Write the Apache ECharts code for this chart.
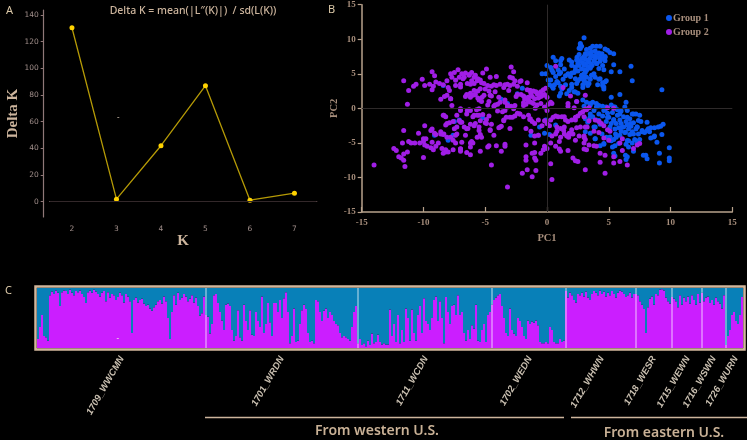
<!DOCTYPE html>
<html><head><meta charset="utf-8">
<style>html,body{margin:0;padding:0;background:#000}#c{width:747px;height:440px}</style>
<script src="https://cdn.jsdelivr.net/npm/echarts@6/dist/echarts.min.js"></script>
</head><body><div id="c"></div>
<script>
const kLabels = ['2','3','4','5','6','7'];
const deltaK = [130.5,1.8,41.9,87,1,6.3];
const deltaTicks = [0,20,40,60,80,100,120,140];

const group1 = [
[0,6.2],[-0.4,5],[-0.1,5],[0.5,7.4],[0.7,6.9],[1.1,6.9],[1.1,6.3],[1.2,7.2],[1.8,7],[2,6.7],[2.3,6],[2.6,7.8],[2.6,8.7],[2.7,9.2],[3,10.2],[2.8,9],[3.2,8.5],[3.5,8.7],[3.7,9],[4,9],[4.3,9],[4.7,8.6],[4.9,8.4],[5.1,8.1],[5.4,7.9],[5.4,6.3],[5.2,5.3],[5.9,5.3],[6.8,6.1],[6.9,4],[9.3,2.7],[5.2,1.6],[5.9,2],[6.4,0.9],
[2.4,7],[2.5,6.5],[2.6,6.2],[2.7,6.8],[2.8,7.2],[2.9,6.6],[3,7.5],[3,6.2],[3.1,7.1],[3.2,6.5],[3.2,7.8],[3.3,6],[3.3,7],[3.4,8],[3.4,6.7],[3.5,7.3],[3.5,5.8],[3.6,8.2],[3.6,6.4],[3.7,7.6],[3.8,6.9],[3.9,8.3],[3.9,7.2],[4,7.8],[4,6.5],[4.2,7.4],[4.2,8],[4.3,6.8],[4.4,7.7],[4.5,7.2],[4.5,6.2],[4.7,7.5],[4.7,6.9],[4.6,5.6],[4.8,4],[4.5,3.7],[4.5,3.3],[4.6,2.8],[4.2,4.2],[3.9,4.5],[4.1,3.4],[3.6,4.8],[3.2,5.5],[3,5],[2.9,4.6],[3,4],[3.2,3.7],[3.3,3.3],[2.9,3.4],[2.9,3],[3.1,5.2],[2.8,5.7],[2.5,5.4],[2.2,5.2],[2,5.1],[1.9,4.6],[2.3,4.3],[2.5,4],[2.4,3.6],[2,3.5],[2.2,2.4],[2.5,2.2],[2.4,1],[1.5,3.4],[1.2,2.8],[1.1,2.2],[1,1.8],[1.3,4.2],[1.5,4.7],[1.7,5],[1.4,5.7],[1.1,5.2],[0.7,4.6],[0.8,3.9],[0.6,3.4],[0.3,4.1],[0.1,4.1],[0.2,3.4],[0.4,3.2],[0.5,2.9],[0.9,3.7],[1.1,3.2],[1.8,2.6],[2,3],[1.6,2.1],[0.5,5.2],[0.4,5.5],[0.3,5.9],[0.9,5.6],[1,5],[2.7,4.3],[3.5,4.2],[3.4,3.6],
[2.7,9.4],[2.7,8.65],[2.43,7.4],[2.3,5.5],[2,6.2],[3.1,7.9],[3.5,7.9],[3.9,7.4],[3.5,6],[3.1,5.5],[2.8,4.8],[3.2,4.5],[3.65,6.2],[4.05,6.5],[4.3,7.2],[4.45,7.9],[4.7,7.4],[4.2,5.75],[3.8,5],[4.3,4.3],[4.7,3.8],[4.6,3.1],[2.3,2.35],[3,4.5],
[2.9,1.2],[3,0.3],[3.2,0.9],[3.5,0.5],[3.7,0.9],[4,0.7],[4.2,0.4],[4.5,0.3],[4.8,0.2],[5.2,0.5],[5.5,0.2],[5.7,-0.2],[6,-0.4],[6.3,0.2],[6.5,-0.3],[6.9,-0.8],[7.2,-0.8],[7.5,-1],[7.6,-1.9],[8.1,-2],[8.4,-2.8],[8.7,-2.8],[9,-2.7],[9.2,-2.6],[9.4,-2.3],[9.3,-3.8],[8.7,-4],[8.9,-4.9],[9.9,-5.7],[9.1,-6.5],[9.9,-7.2],[9.9,-7.6],[9.1,-7.9],[8.1,-7.3],[7.8,-6.8],[7,-6.2],[6.5,-7],[6.4,-7.4],[5.4,-6.5],[5.5,-6.9],
[3.1,-1.5],[3.3,-2],[3.5,-0.8],[3.7,-1.2],[3.8,-0.3],[4,-1.7],[4.2,-0.8],[4.3,-2.3],[4.5,-1.1],[4.7,-0.2],[4.8,-1.9],[4.9,-0.7],[5,-1.3],[5.2,-2.2],[5.3,-0.6],[5.4,-1.6],[5.5,-3],[5.6,-2.2],[5.7,-1],[5.8,-2.8],[5.9,-1.7],[6,-3.3],[6,-2.2],[6.2,-1.2],[6.2,-2.7],[6.3,-3.5],[6.4,-1.9],[6.5,-2.4],[6.6,-3],[6.7,-1.5],[6.7,-3.8],[6.8,-2.6],[6.9,-3.4],[7,-2.1],[7.1,-4.5],[7.2,-3],[7.3,-2.7],[7.4,-3.7],[7.5,-4.5],[7.7,-3.2],[7.9,-3.5],[8.1,-3.2],[8.3,-3.4],[8.4,-4.3],[6.6,-4.7],[6.4,-5.2],[5.6,-4.2],[5.4,-4.5],[5.2,-4.7],[4.8,-4.2],[4.6,-5.2],[4.3,-5.4],[3.9,-4.4],[3.5,-3.6],[3.9,-2.7],[3.1,-3.4],[5.8,-5.1],[5.5,-5.4],[6.9,-5],[7.3,-4.8],
[3.5,0.7],[4,0.2],[4.6,-0.3],[5.4,0.2],[5.9,-0.8],[6.5,-1.3],[7,-0.8],[7.4,-1.75],[7.7,-3.4],[8.2,-2.95],[8.65,-4.15],[7,-3.7],[6.5,-4.65],[5.9,-3.9],[5.1,-4.15],[4.6,-5.1],[5.3,-5.6],[4.45,-3.7],[3.9,-4.4],[3.5,-1.3],[3.8,-2.7],[5.4,-1.75],[6.1,-2.7],[6.35,-3.45],[6.75,-2.2],[7.3,-2.7],[4.9,-1.3],[4.2,-1.75],[5.1,-2.7],[5.55,-3.7],[6.6,-5.6],[6.35,-6.8],[8,-6.8],
[-8.4,3.3],[-9.1,-3.9],[-7.5,-1.9],[-7.6,-3.9],[-8,-4.6],[-7.1,-1.7],[-3.7,1.3],[-2,2.9],[-2.4,2.1],[-1.8,1.6],[-3.2,0.7],[-5.2,-1.4],[-1.3,-3.9],[-0.7,-3.9],[-0.2,-3.6],[0.2,-3.8],[-0.6,-2.7],[-0.1,-1.7],[0.7,-2.4]
];

const group2 = [
[-14,-8.2],[-12.4,-5.8],[-12.2,-6.1],[-12,-7],[-11.8,-7.2],[-11.6,-7.5],[-11.5,-8.4],[-11.6,-6.6],[-11.3,-6.3],[-11.7,-5],[-11.2,-4.8],[-11,-5],[-10.7,-5],[-10.3,-5],[-10,-4.8],[-9.9,-5.3],[-9.7,-5.5],[-9.4,-5.7],[-9.2,-6],[-9,-5.5],[-8.8,-5],[-10,-7.1],[-10.4,-3.6],[-10,-4.4],[-9.9,-2.5],[-9.3,-3],[-9.1,-3.6],[-9,-3.8],[-11.6,-3.2],[-8.6,-3.4],[-8.4,-3.8],[-8.1,-4.2],[-8.5,-5.8],[-8.2,-6],[-8.4,-6.5],[-8,-6.3],[-7.6,-6],[-7.4,-5],[-7,-5.9],[-7,-6.2],[-6.5,-6.4],[-6.2,-6.7],[-6.9,-4.9],[-6.1,-4.8],[-6,-5],[-5.4,-6.2],[-4.8,-5.6],[-4.7,-5.4],[-4.1,-5.4],[-3.7,-6.2],[-3.4,-5.5],[-3.4,-5.2],[-4.5,-8.2],[-3.2,-11.4],[-2,-9.4],[-1.6,-8.9],[-1.2,-9.9],[-0.9,-9],[-1.7,-7],[-1.7,-7.5],[-1.2,-6.5],[-1,-6.4],[-1,-7.2],[-0.9,-7.5],[-1.7,-5.3],[-1,-5],[-0.5,-6.5],[-0.3,-6],[0,-5.8],[-0.2,-5.5],[0.3,-5],[0.7,-5.5],[1,-4.8],[1,-5.9],[1.1,-6.2],[1.7,-6.1],[2.1,-7.2],[2.3,-7.6],[2.5,-7.7],[0.3,-8],[0.4,-10.3],[3.1,-8.9],[4.7,-9.4],[4.3,-7.8],[5.4,-7.9],[5.9,-7.7],[6.5,-8.2],[4.3,-6.5],[4.7,-6.8],[5.4,-7],[3,-5.9],[3.2,-6],[3,-5],[3.4,-5.3],[3.8,-5.4],[4,-5.5],[4.6,-4.3],[5,-4.6],[5.9,-5],[6.1,-4.4],[6.1,-6.1],[7,-5.8],[7.3,-5.3],[7.5,-5.1],[3,-4],[3.1,-4.5],
[-11.6,4],[-11.2,2.6],[-11.3,0.6],[-10.8,3.2],[-10.6,3.5],[-10.1,4.2],[-9.9,3.3],[-9.5,3.5],[-9.3,5.3],[-9.1,4.7],[-9.2,3.2],[-9.3,2.7],[-9,3.8],[-8.7,3.6],[-8.4,3.4],[-8.1,4],[-8,3],[-7.9,2.6],[-7.7,4.5],[-7.8,5],[-7.5,5.2],[-7.2,5.6],[-7.4,3.3],[-7,3.5],[-6.9,5],[-6.8,4.3],[-6.6,5.1],[-6.3,4.9],[-6.1,5.2],[-6.1,4],[-6.2,3.5],[-5.9,3.6],[-5.8,4.8],[-5.6,4.3],[-5.4,4.1],[-5.3,3.7],[-5.2,5.1],
[-8.6,1.3],[-8.3,1.7],[-7.8,1.4],[-7.7,0.4],[-7,-0.3],[-6.6,1.7],[-6.5,2],[-6.2,2.2],[-6,1.9],[-5.8,2],[-5.6,1.5],[-5.6,2.5],[-5,2.8],[-4.7,2.5],[-4.8,3.3],[-4.5,3.2],[-4.3,3.4],[-4.1,3.3],[-3.8,3.5],[-3.4,3.4],[-3,3.3],[-3,4.5],[-3.2,3.5],[-2.8,4.4],[-2.6,4],[-2.7,3.5],[-2.4,3.2],[-2.2,3.9],[-2.1,4],[-1.6,3.7],[-3.1,2.6],[-2.9,6],[-2.7,5.3],[-4.9,5.7],[-4.6,4.5],[-4.1,4.6],[-3.5,3],[-4.5,1.8],[-5.3,1],[-5.1,1.9],[-4.8,0.5],[-4.7,1],[-4.3,0.3],[-4.2,0.5],[-4,0.6],[-3.9,1.6],[-3.4,0.9],[-3.4,1.2],[-3.2,0.5],[-2.9,0.3],[-2.6,0.4],[-2.5,1.7],[-2.4,2],[-2.1,2],[-1.9,1.8],[-1.6,1.5],[-1.6,2.7],[-1.4,2.6],[-1.3,2.2],[-1.1,2.5],[-0.9,2.4],[-0.7,2.2],[-0.5,2.4],[-0.3,2.7],[-0.1,2.9],[-0.2,2],[0,1.6],[-0.5,1.7],[-0.7,1.5],[-1,1.4],[-1.2,1.7],[-1.5,1.6],[-1.8,1.3],[-1.9,0.8],[-1.7,0.6],[-1.5,1],[-1.3,0.9],[-1.1,0.7],[-0.8,0.5],[-0.5,0.7],[-0.2,0.2],[0.1,0.6],[0.3,0.9],
[-6.45,3.6],[-7,3.1],[-5.9,2.6],[-5.65,4],[-6.2,1.6],[-5.25,1.6],[-5.4,2.85],[-5.1,3.6],[-7.8,1.4],[-8.1,1.9],[-7.4,4.05],[-7.1,4.5],[-6.7,4.5],[-6.3,4.8],[-5.9,4.5],[-5.5,1.2],
[-4.6,1.9],[-4.2,2.4],[-3.8,0.9],[-3.2,0.2],[-2.7,-0.05],[-2.2,-0.8],[-1.35,2.6],[-0.8,2.1],[-0.3,1.9],[-1.5,1.2],[-1.9,0.4],[-0.95,0],[-1.35,-1.5],[-0.7,-1.7],[0,-0.3],[0.4,0.7],
[-6.3,-0.2],[-6.5,-0.8],[-6,-1.2],[-5.7,-0.2],[-5.5,-1],[-5.4,-1.8],[-5.2,-0.9],[-4.9,-1.6],[-4.7,-1.1],[-4.5,-2.3],[-4,-0.4],[-3.6,-0.5],[-3.4,-0.3],[-3.3,-1.3],[-3.5,-1.8],[-3.7,-2.6],[-3.9,-2.8],[-3,-2.9],[-2.8,-1.3],[-2.6,-1.1],[-2.4,-0.7],[-2.2,-0.8],[-1.9,-1.2],[-1.7,-2.9],[-1.5,-1],[-1.4,-1.6],[-1.2,-1.9],[-1,-2.2],[-1.3,-3.3],[-1,-4],[-0.7,-3.9],[-0.4,-2.5],[-0.2,-1.8],[0,-2.2],[0.2,-2.5],[0.5,-1.3],[0.7,-1.1],[0.9,-1.2],[1.2,-1.2],[1.4,-1.2],[1.5,-1.7],[1.7,-1.9],[2,-1.7],[2.3,-1.3],[2.5,-1.1],[2.7,-0.7],[2.9,-0.5],[3.1,-0.1],[0.4,-4],[0.7,-3.7],[0.8,-3.3],[1.1,-2.9],[1.4,-2.7],[1.4,-3.7],[1.6,-4],[1.8,-3.6],[2,-3.1],[2.1,-3.7],[2.4,-2.8],[2.3,-4.6],[2.6,-4],[3.1,-2.7],[3.4,-1.8],[3.9,-1.7],[4.2,-1.9],[4.4,-2.2],[4.6,-2.5],[5.1,-3.3],[4.9,-3.1],[3.8,-3.3],[4.2,-3.5],[3,-1.2],[3.1,1.9],[0.7,6.1],[1.3,3],[1.9,1.8],[1.7,0.7],[1.7,0.3],[2.4,1],[2.2,0.1],[3.2,-0.2],[3.4,0.1],[5.4,0],[4.9,0.1],
[-3.8,-2.7],[-3.5,-1.7],[-3,-1.3],[-4.6,-3.2],[-4.9,-2.2],[0.3,-1.7],[0.8,-2.7],[1.35,-3.2],[1.9,-3.7],[2.3,-1.7],[2.7,-2.7],[3,-4.2],[3.25,-2.7],[1.75,-4.2],[1.1,-4.2],
[-8.4,-1],[-8.2,-1.2],[-8.2,-2.4],[-7.9,-2.1],[-7.6,-1.9],[-7.3,-1],[-7.1,-1.8],[-6.9,-2],[-6.7,-2.7],[-6.4,-2.9],[-6.2,-2.3],[-5.9,-2.5],[-5.5,-2.7],[-5.4,-3.8],[-5.3,-4.2],[-5,-2.1],[-4.6,-3.1],[-4.3,-3.9],[-7.6,-4.6],[-7.3,-3.7],[-6.6,-3.9],[-6.2,-5],
[-8.35,-1],[-7.3,-2.7],[-7,-2],[-7.5,-2.95],[-7.4,-3.9],[-6.5,-2.95],[-5.8,-2.2],[-5.5,-3.2],[-5.9,-1],[-5.65,-4.2],[-6.2,-5.6],[-7,-5.85],[-8.2,-6.3],[-8.6,-3.7],[-9.4,-3.2],[-9.3,-4.9],[-9.8,-4.4],[-7,-0.05],[-6.45,-0.3],[-6.2,-0.3],[-5.5,-0.05],[-5.65,-1],[-8.1,-2.2],[-8.35,-3.7],[-7.8,-4.2]
];

const popNames = ['1709_WWCMN','1701_WRDN','1711_WCDN','1702_WEDN','1712_WHWN','1718_WESR','1715_WEWN','1716_WSWN','1726_WURN'];
const pop1 = [15,35,55,20,18,12,88,94,90,96,92,70,93,96,95,90,97,92,88,95,93,96,90,85,75,93,96,92,97,94,90,86,92,95,78,93,84,90,88,80,85,92,88,76,90,86,78,25,80,84,76,80,82,74,70,72,66,62,68,72,78,80,74,86,78,50,15,60,88,72,92,80,84,90,86,78,82,88,76,84,70,54,58,86];
const pop2 = [55,52,24,40,88,90,75,60,46,30,72,74,70,30,12,20,63,18,12,72,45,30,63,22,20,60,45,35,86,25,40,75,43,20,75,75,60,80,50,83,93,60,8,20,66,10,12,40,63,72,65,25,10,12,8,80,78,60,45,62,66,50,60,55,45,40,38,25,18,20,18,15,12,35,60,70];
const pop3 = [8,15,5,8,3,12,5,24,8,10,22,10,6,8,6,6,64,20,40,10,55,8,30,10,66,50,12,64,25,12,55,70,25,83,45,40,30,50,80,86,45,78,50,8,85,60,40,70,72,55,88,55,60,25,12,30,15,38,32,72,12,10,30,40,10,55,60];
const pop4 = [72,80,84,88,90,70,50,25,20,66,30,24,20,50,45,35,20,15,46,40,44,42,46,38,10,8,8,10,8,35,30,10,8,8,15,10,12];
const pop5 = [95,84,92,88,80,76,90,88,92,86,94,84,80,90,95,92,88,96,90,94,86,92,88,95,90,84,92,96,94,90,85,88,92,84,90];
const pop6 = [90,88,78,72,65,25,68,82,86,72,90,88,97,98,96,84,78,74];
const pop7 = [85,82,78,68,88,72,84,78,86,74,88,80,72,90,76];
const pop8 = [92,78,84,86,75,80,72,84,78,74,66,88];
const pop9 = [5,20,30,55,60,45,40,55,85];

const pops = [pop1,pop2,pop3,pop4,pop5,pop6,pop7,pop8,pop9];
const colNames = [], purple = [], cuts = [], mids = [];
pops.forEach((p,i)=>{
  mids.push(purple.length + Math.round(p.length/2));
  p.forEach(v=>{colNames.push(popNames[i]+'|'+purple.length); purple.push(v);});
  if(i<pops.length-1) cuts.push(purple.length);
});
const blue = purple.map(v=>100-v);

const tan='#cdb59d', tick='#a08e8a', axisA='#8f7878';
const serif='"Liberation Serif","DejaVu Serif",serif';
const T=(text,l,t,size,color,family,weight)=>({text,left:l,top:t,textStyle:{fontSize:size,color,fontFamily:family||'"Noto Sans",sans-serif',fontWeight:weight||'normal'}});

const option={
  backgroundColor:'#000',animation:false,
  title:[
    T('A',1,0,11,'#dcc9a8'),T('B',323,-1,11,'#dcc9a8'),T('C',0,280,11,'#dcc9a8'),
    {text:'Delta K = mean(|L\u2033(K)|)  / sd(L(K))',left:188,top:1,textAlign:'center',textStyle:{fontSize:10.5,color:tan,fontFamily:'"Noto Sans",sans-serif',fontWeight:500}},
    T('-',112,109,8,'#c9b8a8'),T('-',111.5,330,8,'#f0e8e0')
  ],
  legend:{data:['Group 1','Group 2'],orient:'vertical',left:661,top:8,itemWidth:6,itemHeight:6,itemGap:4,icon:'circle',
    textStyle:{color:'#a68d7b',fontSize:10,fontFamily:serif,fontWeight:'bold',padding:[0,0,0,-4]},selectedMode:false},
  grid:[
    {left:49.7,width:267,top:10,height:207},
    {left:361.7,width:370.6,top:4.7,height:207.3},
    {left:37,width:706,top:288,height:60}
  ],
  xAxis:[
    {gridIndex:0,type:'category',data:kLabels,offset:5,name:'K',nameLocation:'middle',nameGap:6,
     nameTextStyle:{color:tan,fontFamily:serif,fontWeight:'bold',fontSize:15},
     axisLine:{lineStyle:{color:axisA,width:1.2}},axisTick:{alignWithLabel:true,length:3,lineStyle:{color:axisA}},
     axisLabel:{color:tick,fontSize:7.5,margin:3,fontFamily:'"DejaVu Sans",sans-serif'},splitLine:{show:false}},
    {gridIndex:1,type:'value',min:-15,max:15,interval:5,name:'PC1',nameLocation:'middle',nameGap:21,
     nameTextStyle:{color:'#a68d7b',fontFamily:serif,fontWeight:'bold',fontSize:10.5},
     axisLine:{onZero:false,lineStyle:{color:'#b8a28c',width:1.5}},axisTick:{inside:true,length:5,lineStyle:{color:'#b8a28c',width:1.2}},
     axisLabel:{color:'#a68d7b',fontSize:9,margin:6,fontFamily:serif,fontWeight:'bold'},splitLine:{show:false}},
    {gridIndex:2,type:'category',data:colNames,axisLine:{show:false},axisTick:{show:false},splitLine:{show:false},
     axisLabel:{interval:(i)=>mids.includes(i),rotate:60,margin:9,color:'#c9bfb0',fontSize:9.5,fontStyle:'italic',fontWeight:'bold',
       fontFamily:'"Liberation Sans",sans-serif',formatter:(v)=>v.split('|')[0]}}
  ],
  yAxis:[
    {gridIndex:0,type:'value',min:-11.6,max:143.8,offset:6,name:'Delta K',nameLocation:'middle',nameGap:16,nameRotate:90,
     nameTextStyle:{color:tan,fontFamily:serif,fontWeight:'bold',fontSize:15},
     axisLine:{show:true,lineStyle:{color:axisA,width:1.2}},axisTick:{show:true,length:3,customValues:deltaTicks,lineStyle:{color:axisA}},
     axisLabel:{color:tick,fontSize:7.5,margin:5,customValues:deltaTicks,fontFamily:'"DejaVu Sans",sans-serif'},splitLine:{show:false}},
    {gridIndex:1,type:'value',min:-15,max:15,interval:5,name:'PC2',nameLocation:'middle',nameGap:17,nameRotate:90,
     nameTextStyle:{color:'#a68d7b',fontFamily:serif,fontWeight:'bold',fontSize:10.5},
     axisLine:{show:true,onZero:false,lineStyle:{color:'#b8a28c',width:1.5}},axisTick:{show:true,length:4,lineStyle:{color:'#b8a28c',width:1.2}},
     axisLabel:{color:'#a68d7b',fontSize:9,margin:6,fontFamily:serif,fontWeight:'bold'},splitLine:{show:false}},
    {gridIndex:2,type:'value',min:0,max:100,show:false}
  ],
  series:[
    {type:'line',xAxisIndex:0,yAxisIndex:0,data:deltaK,symbol:'circle',symbolSize:5,
     itemStyle:{color:'#ffd200'},lineStyle:{color:'#b59a06',width:1.3},
     markLine:{silent:true,symbol:'none',label:{show:false},lineStyle:{color:'#33282a',width:1,type:'solid'},data:[{yAxis:0}]}},
    {name:'Group 1',type:'scatter',xAxisIndex:1,yAxisIndex:1,data:group1,symbolSize:5,itemStyle:{color:'#0b57ee',opacity:1},
     markLine:{silent:true,symbol:'none',label:{show:false},lineStyle:{color:'#2e2a2a',width:1,type:'solid'},data:[{xAxis:0},{yAxis:0}]}},
    {name:'Group 2',type:'scatter',xAxisIndex:1,yAxisIndex:1,data:group2,symbolSize:5,itemStyle:{color:'#a01ee6',opacity:1}},
    {type:'bar',xAxisIndex:2,yAxisIndex:2,stack:'q',data:purple,barCategoryGap:0,barWidth:'100%',itemStyle:{color:'#cb1eff'}},
    {type:'bar',xAxisIndex:2,yAxisIndex:2,stack:'q',data:blue,barCategoryGap:0,barWidth:'100%',itemStyle:{color:'#0880b8'},
     markLine:{silent:true,symbol:'none',label:{show:false},lineStyle:{color:'rgba(255,255,255,0.5)',width:1.5,type:'solid'},
       data:cuts.map(c=>({xAxis:c}))}}
  ],
  graphic:[
    {type:'rect',z:100,shape:{x:35.5,y:286.5,width:709,height:63},style:{fill:null,stroke:'#d2b79c',lineWidth:2.5}},
    {type:'line',z:100,shape:{x1:205,y1:417.5,x2:564,y2:417.5},style:{stroke:'#cdb59d',lineWidth:1.3}},
    {type:'line',z:100,shape:{x1:571,y1:417.5,x2:747,y2:417.5},style:{stroke:'#cdb59d',lineWidth:1.3}},
    {type:'text',z:100,x:377,y:431,style:{text:'From western U.S.',fill:'#c9b196',font:'600 14px "Noto Sans",sans-serif',textAlign:'center',textVerticalAlign:'middle'}},
    {type:'text',z:100,x:664,y:433,style:{text:'From eastern U.S.',fill:'#c9b196',font:'600 14px "Noto Sans",sans-serif',textAlign:'center',textVerticalAlign:'middle'}}
  ]
};
echarts.init(document.getElementById('c'),null,{renderer:'canvas'}).setOption(option);
</script>
</body></html>
